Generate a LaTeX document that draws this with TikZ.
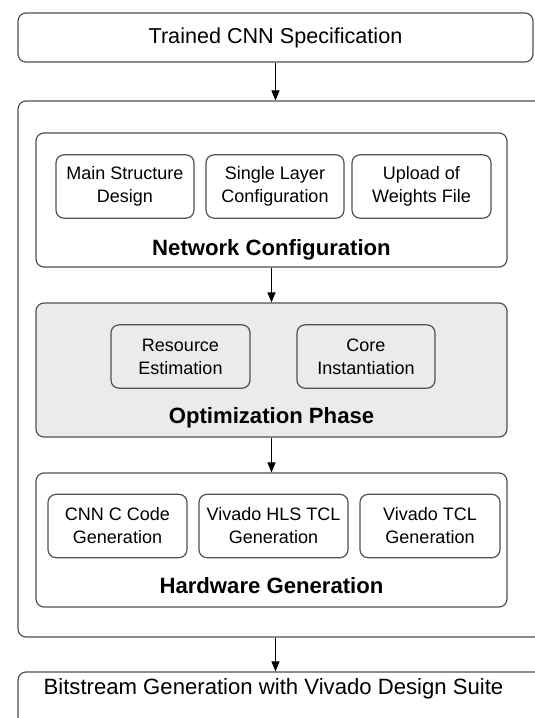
\documentclass[tikz,border=0pt]{standalone}
\usepackage{fontspec}
\setmainfont{Liberation Sans}
\usetikzlibrary{arrows.meta}
\definecolor{boxline}{HTML}{505050}
\definecolor{phasefill}{HTML}{EBEBEB}

\begin{document}
\begin{tikzpicture}[x=0.75pt, y=-0.75pt,
    stage/.style={draw=boxline, line width=0.9pt, rounded corners=6pt, inner sep=0pt},
    task/.style={stage, minimum height=47.5pt, align=center, font=\fontsize{13.5}{17.25}\selectfont},
    phase/.style={stage, minimum width=353.25pt, minimum height=100.5pt},
    title/.style={anchor=base, font=\fontsize{16.6}{20}\selectfont\bfseries},
    flow/.style={-{Triangle[length=7.5pt,width=6pt]}, line width=0.8pt}]
    \useasboundingbox (0,0) rectangle (535,718);
    \clip (0,0) rectangle (535,718);

    % Input, tool frame and output
    \node[stage, minimum width=386.25pt, minimum height=36.75pt, font=\fontsize{16.2}{20}\selectfont] (spec) at (275.5,37.5) {Trained CNN Specification};
    \node[stage, minimum width=406.5pt, minimum height=402pt] (tool) at (289,369) {};
    \node[stage, minimum width=406.5pt, minimum height=51pt] (bits) at (289,706) {};
    \node[anchor=base, font=\fontsize{16.6}{20}\selectfont] (bitstext) at (273.5,694) {Bitstream Generation with Vivado Design Suite};

    % Network Configuration
    \node[phase] (net) at (271.5,200) {};
    \node[task, minimum width=103.5pt] (mainst) at (125,186.5) {Main Structure\\Design};
    \node[task, minimum width=103.5pt] (layer) at (275,186.5) {Single Layer\\Configuration};
    \node[task, minimum width=104.25pt] (weights) at (421.5,186.5) {Upload of\\Weights File};
    \node[title] (nettitle) at (271.5,255) {Network Configuration};

    % Optimization Phase
    \node[phase, fill=phasefill] (opt) at (271.5,370) {};
    \node[task, minimum width=104.25pt] (resource) at (180.5,356.5) {Resource\\Estimation};
    \node[task, minimum width=103.5pt] (core) at (366,356.5) {Core\\Instantiation};
    \node[title] (opttitle) at (271.5,423) {Optimization Phase};

    % Hardware Generation
    \node[phase] (hw) at (271.5,540) {};
    \node[task, minimum width=104.25pt] (ccode) at (117.5,526) {CNN C Code\\Generation};
    \node[task, minimum width=111.75pt] (hlstcl) at (273.5,526) {Vivado HLS TCL\\Generation};
    \node[task, minimum width=105pt] (vivtcl) at (430,526) {Vivado TCL\\Generation};
    \node[title] (hwtitle) at (271.5,593) {Hardware Generation};

    % Arrows
    \draw[flow] (spec.south) -- (spec.south |- tool.north);
    \draw[flow] (net.south) -- (opt.north);
    \draw[flow] (opt.south) -- (hw.north);
    \draw[flow] (spec.south |- tool.south) -- (spec.south |- bits.north);
\end{tikzpicture}
\end{document}
